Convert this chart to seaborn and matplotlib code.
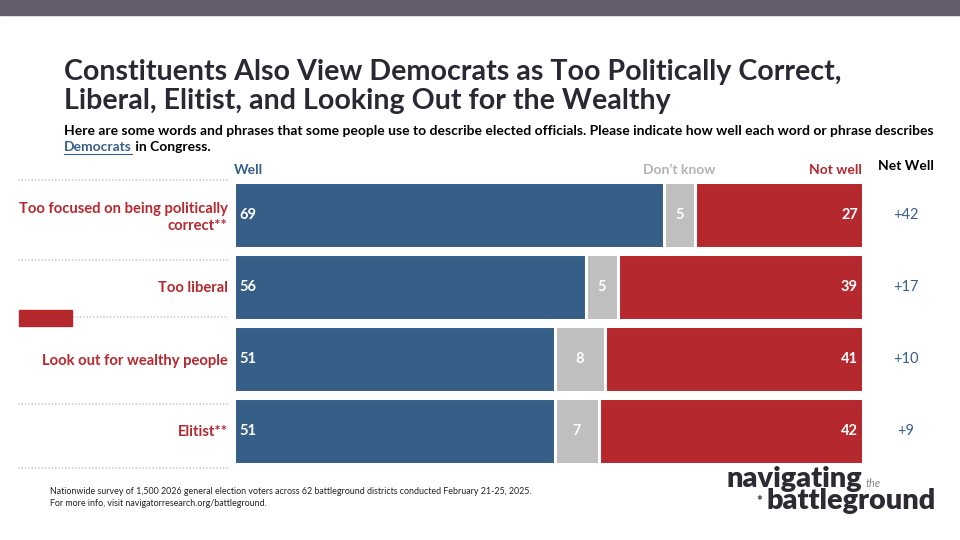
import seaborn as sns
import matplotlib.pyplot as plt
import pandas as pd
from matplotlib.patches import Rectangle
from matplotlib.lines import Line2D

sns.set_theme(style="white")
plt.rcParams["font.family"] = ["Lato", "DejaVu Sans"]

# data
items = ["Too focused on being politically\ncorrect**", "Too liberal",
         "Look out for wealthy people", "Elitist**"]
well = [69, 56, 51, 51]
dont_know = [5, 5, 8, 7]
not_well = [27, 39, 41, 42]

BLUE = "#365f88"
GRAY = "#bfbfbf"
RED = "#b5282e"
DARK = "#2b2733"

df = pd.DataFrame({"item": items, "well": well, "dk": dont_know, "nw": not_well})
df["total"] = df["well"] + df["dk"] + df["nw"]
# each row is stretched to the full width
df["end_well"] = df["well"] / df["total"] * 100
df["end_dk"] = (df["well"] + df["dk"]) / df["total"] * 100
df["end_nw"] = 100.0
df["net"] = df["well"] - df["nw"]

W, H = 960, 540
fig = plt.figure(figsize=(9.6, 5.4), dpi=100)


def fx(x):
    return x / W


def fy(y):
    return 1 - y / H


ax = fig.add_axes([fx(234), fy(467), (863 - 234) / W, 288 / H])

# overlay: full bar red, then gray, then blue on top
for col, c in [("end_nw", RED), ("end_dk", GRAY), ("end_well", BLUE)]:
    sns.barplot(data=df, x=col, y="item", orient="h", color=c, saturation=1,
                width=0.93, edgecolor="white", linewidth=2.2, ax=ax)

ax.set_xlim(0, 100)
ax.set_ylim(3.5, -0.5)
ax.set_xlabel("")
ax.set_ylabel("")
ax.set_xticks([])
ax.tick_params(axis="y", length=0, pad=4.5, labelsize=10.6, labelcolor=RED)
for t in ax.get_yticklabels():
    t.set_fontweight("bold")
sns.despine(ax=ax, left=True, bottom=True)

# value labels
for i, r in df.iterrows():
    ax.text(0.8, i, f"{r['well']}", color="white", fontsize=10.5,
            fontweight="bold", ha="left", va="center")
    ax.text((r["end_well"] + r["end_dk"]) / 2, i, f"{r['dk']}", color="white",
            fontsize=10.5, fontweight="bold", ha="center", va="center")
    ax.text(99.2, i, f"{r['nw']}", color="white", fontsize=10.5,
            fontweight="bold", ha="right", va="center")
    ax.text(106.8, i, f"+{r['net']}", color=BLUE, fontsize=10.5,
            ha="center", va="center", clip_on=False)

# column headers
fig.text(fx(234), fy(170), "Well", color=BLUE, fontsize=10, fontweight="bold",
         ha="left", va="center")
fig.text(fx(679), fy(170), "Don\u2019t know", color="#b3b3b3", fontsize=10,
         fontweight="bold", ha="center", va="center")
fig.text(fx(862), fy(170), "Not well", color=RED, fontsize=10,
         fontweight="bold", ha="right", va="center")
fig.text(fx(906), fy(166), "Net Well", color="black", fontsize=10,
         fontweight="bold", ha="center", va="center")

# dotted separators and little red block
for y in [180, 260, 317, 404, 468]:
    x0 = 73 if y == 317 else 18
    fig.add_artist(Line2D([fx(x0), fx(228)], [fy(y), fy(y)], color="#c8c8c8",
                          linestyle=(0, (1, 1.2)), linewidth=1.1))
fig.add_artist(Rectangle((fx(19), fy(326)), fx(72) - fx(19), fy(310) - fy(326),
                         color=RED, transform=fig.transFigure))

# top band
fig.add_artist(Rectangle((0, fy(15)), 1, 15 / H, color="#625c6d",
                         transform=fig.transFigure))

# title and question
fig.text(fx(64), fy(72), "Constituents Also View Democrats as Too Politically Correct,",
         color=DARK, fontsize=20.6, fontweight="bold", ha="left", va="center")
fig.text(fx(64), fy(101), "Liberal, Elitist, and Looking Out for the Wealthy",
         color=DARK, fontsize=20.6, fontweight="bold", ha="left", va="center")
fig.text(fx(64), fy(131), "Here are some words and phrases that some people use to describe "
         "elected officials. Please indicate how well each word or phrase describes",
         color="black", fontsize=10.0, fontweight="bold", ha="left", va="center")
dem = fig.text(fx(64), fy(147), "Democrats", color=BLUE, fontsize=10.0,
               fontweight="bold", ha="left", va="center")
fig.canvas.draw()
bb = dem.get_window_extent()
fig.text(bb.x1 / W, fy(147), " in Congress.", color="black", fontsize=10.0,
         fontweight="bold", ha="left", va="center")
fig.add_artist(Line2D([bb.x0 / W, bb.x1 / W], [fy(154), fy(154)], color=BLUE,
                      linewidth=0.8))

# footnote
fig.text(fx(50), fy(491), "Nationwide survey of 1,500 2026 general election voters across "
         "62 battleground districts conducted February 21-25, 2025.",
         fontsize=6.4, color="#222222", ha="left", va="center")
fig.text(fx(50), fy(503), "For more info, visit navigatorresearch.org/battleground.",
         fontsize=6.4, color="#222222", ha="left", va="center")

# logo
fig.text(fx(727), fy(487), "navigating", fontsize=20.8, fontweight="heavy",
         color="#2e2a33", ha="left", va="baseline")
fig.text(fx(866), fy(487), "the", fontsize=8, style="italic", color="#888888",
         ha="left", va="baseline")
fig.text(fx(756), fy(505), "*", fontsize=10, fontweight="bold", color="#2e2a33",
         ha="left", va="baseline")
fig.text(fx(766), fy(509), "battleground", fontsize=20.8, fontweight="heavy",
         color="#2e2a33", ha="left", va="baseline")

fig.savefig("out.png", dpi=100)
